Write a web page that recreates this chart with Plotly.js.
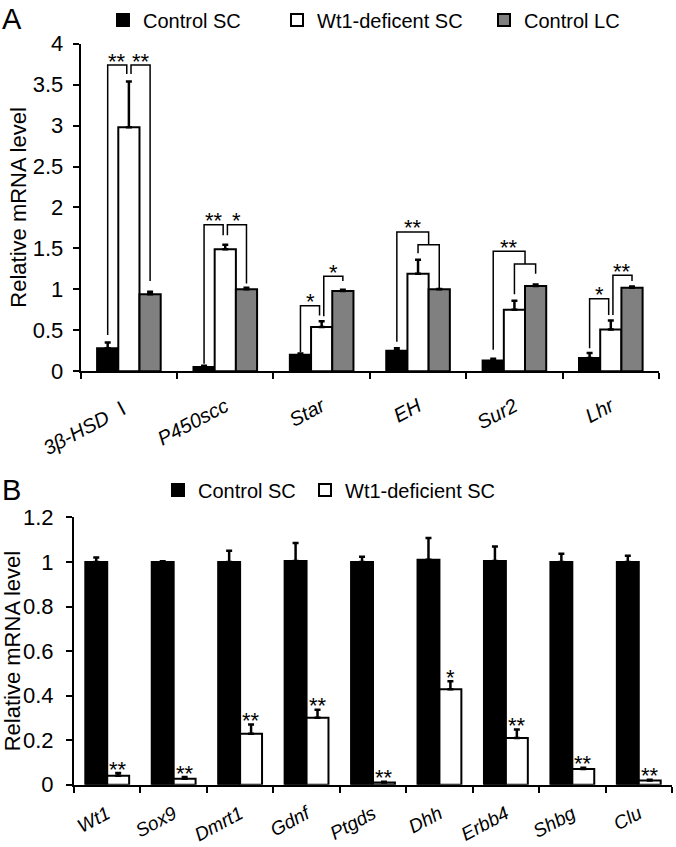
<!DOCTYPE html>
<html>
<head>
<meta charset="utf-8">
<script src="https://cdn.plot.ly/plotly-3.0.1.min.js"></script>
<style>html,body{margin:0;padding:0;background:#fff;}#chart{width:676px;height:847px;}</style>
</head>
<body>
<div id="chart"></div>
<script>
// ---------- Panel A data ----------
const categoriesA = ["3β-HSD <span style=\"font-family:'Noto Sans CJK SC';font-style:normal\">Ⅰ</span>", "P450scc", "Star", "EH", "Sur2", "Lhr"];
const controlSC_A = [0.28, 0.05, 0.20, 0.25, 0.13, 0.16];
const controlSC_A_err = [0.07, 0.015, 0.015, 0.03, 0.02, 0.06];
const wt1SC_A = [2.98, 1.49, 0.54, 1.19, 0.75, 0.51];
const wt1SC_A_err = [0.56, 0.055, 0.07, 0.17, 0.11, 0.11];
const controlLC_A = [0.94, 1.00, 0.98, 1.00, 1.04, 1.02];
const controlLC_A_err = [0.03, 0.02, 0.015, 0.005, 0.02, 0.015];
const seriesNamesA = ["Control SC", "Wt1-deficent SC", "Control LC"];

// significance brackets (panel A): category, from-bar slot, to-bar slot (0 black,1 white,2 grey), top, leg ends, label
const bracketCat = [0, 0, 1, 1, 2, 2, 3, 3, 4, 4, 5, 5];
const bracketFrom = [0, 1.1, 0, 1.1, 0, 1.1, 0, 1, 0, 1, 0, 1.1];
const bracketTo = [0.9, 2, 0.9, 2, 0.9, 2, 1.5, 2, 1.5, 2, 0.9, 2];
const bracketTop = [3.74, 3.74, 1.79, 1.79, 0.80, 1.16, 1.70, 1.545, 1.465, 1.31, 0.885, 1.17];
const bracketFromEnd = [0.44, 3.63, 0.09, 1.66, 0.23, 0.67, 0.36, 1.44, 0.26, 0.94, 0.28, 0.685];
const bracketToEnd = [3.63, 1.10, 1.66, 1.07, 0.68, 1.10, 1.545, 1.00, 1.31, 1.19, 0.685, 1.10];
const bracketLabel = ["**", "**", "**", "*", "*", "*", "**", "", "**", "", "*", "**"];

// ---------- Panel B data ----------
const categoriesB = ["Wt1", "Sox9", "Dmrt1", "Gdnf", "Ptgds", "Dhh", "Erbb4", "Shbg", "Clu"];
const controlSC_B = [1.00, 1.00, 1.00, 1.005, 1.00, 1.01, 1.005, 1.00, 1.00];
const controlSC_B_err = [0.02, 0.003, 0.05, 0.08, 0.023, 0.098, 0.065, 0.037, 0.028];
const wt1SC_B = [0.04, 0.027, 0.229, 0.30, 0.01, 0.428, 0.21, 0.07, 0.019];
const wt1SC_B_err = [0.012, 0.007, 0.041, 0.037, 0.003, 0.036, 0.038, 0.006, 0.003];
const sigB = ["**", "**", "**", "**", "**", "*", "**", "**", "**"];
const seriesNamesB = ["Control SC", "Wt1-deficient SC"];

// ---------- styling ----------
const FONT = "'Liberation Sans', Arial, sans-serif";
const BLACK = "#000000", WHITE = "#ffffff", GREY = "#808080";
const BARGAP = 0.34;
const W = 676, H = 847;
const px2x = p => p / W;
const px2y = p => (H - p) / H;

function zeros(n) { return new Array(n).fill(0); }
function barTrace(x, y, err, name, color, xa, ya, legend) {
  return {
    type: "bar", x: x, y: y, name: name, xaxis: xa, yaxis: ya, legend: legend,
    marker: {color: color, line: {color: BLACK, width: 2}},
    error_y: {type: "data", array: err, arrayminus: zeros(err.length), symmetric: false,
              visible: true, color: BLACK, thickness: 2.5, width: 3},
    hoverinfo: "skip"
  };
}

const traces = [
  barTrace(categoriesA, controlSC_A, controlSC_A_err, seriesNamesA[0], BLACK, "x", "y", "legend"),
  barTrace(categoriesA, wt1SC_A, wt1SC_A_err, seriesNamesA[1], WHITE, "x", "y", "legend2"),
  barTrace(categoriesA, controlLC_A, controlLC_A_err, seriesNamesA[2], GREY, "x", "y", "legend3"),
  barTrace(categoriesB, controlSC_B, controlSC_B_err, seriesNamesB[0], BLACK, "x2", "y2", "legend4"),
  barTrace(categoriesB, wt1SC_B, wt1SC_B_err, seriesNamesB[1], WHITE, "x2", "y2", "legend5")
];

// bar slot offset in category units
const wA = (1 - BARGAP) / 3;
const wB = (1 - BARGAP) / 2;
const slotA = (cat, s) => cat + (s - 1) * wA;

const shapes = [];
const annotations = [];
for (let i = 0; i < bracketCat.length; i++) {
  const x1 = slotA(bracketCat[i], bracketFrom[i]);
  const x2 = slotA(bracketCat[i], bracketTo[i]);
  const t = bracketTop[i];
  shapes.push({
    type: "path", xref: "x", yref: "y",
    path: `M ${x1},${bracketFromEnd[i]} L ${x1},${t} L ${x2},${t} L ${x2},${bracketToEnd[i]}`,
    line: {color: BLACK, width: 1.5}
  });
  if (bracketLabel[i]) {
    annotations.push({xref: "x", yref: "y", x: (x1 + x2) / 2, y: t, text: bracketLabel[i],
      showarrow: false, xanchor: "center", yanchor: "middle", yshift: 4,
      font: {family: FONT, size: 22, color: BLACK}});
  }
}
for (let i = 0; i < categoriesB.length; i++) {
  annotations.push({xref: "x2", yref: "y2", x: i + wB / 2, y: wt1SC_B[i] + wt1SC_B_err[i],
    text: sigB[i], showarrow: false, xanchor: "center", yanchor: "middle", yshift: 4,
    font: {family: FONT, size: 22, color: BLACK}});
}
annotations.push({xref: "paper", yref: "paper", x: 0, y: px2y(14.5), text: "A", showarrow: false,
  xanchor: "left", yanchor: "middle", font: {family: FONT, size: 29, color: BLACK}});
annotations.push({xref: "paper", yref: "paper", x: 0, y: px2y(487.5), text: "B", showarrow: false,
  xanchor: "left", yanchor: "middle", font: {family: FONT, size: 29, color: BLACK}});

function xAxis(domain, anchor, angle, size, standoff) {
  return {
    domain: domain, anchor: anchor, type: "category", tickson: "boundaries",
    ticks: "outside", ticklen: 6, tickwidth: 2, tickcolor: BLACK,
    showline: true, linewidth: 2, linecolor: BLACK, showgrid: false, zeroline: false,
    tickangle: angle, tickfont: {family: FONT, size: size, color: BLACK, style: "italic"},
    ticklabelstandoff: standoff,
    fixedrange: true
  };
}
function yAxis(domain, anchor, range, dtick, standoff) {
  return {
    domain: domain, anchor: anchor, range: range, tick0: 0, dtick: dtick,
    ticks: "outside", ticklen: 6, tickwidth: 2, tickcolor: BLACK,
    showline: true, linewidth: 2, linecolor: BLACK, showgrid: false, zeroline: false,
    tickfont: {family: FONT, size: 22, color: BLACK}, ticklabelstandoff: standoff,
    title: {text: "Relative mRNA level", font: {family: FONT, size: 22, color: BLACK}},
    fixedrange: true
  };
}
function legendAt(xpx, ypx) {
  return {orientation: "h", x: px2x(xpx), y: px2y(ypx), xanchor: "left", yanchor: "middle",
    font: {family: FONT, size: 20, color: BLACK}, bgcolor: "rgba(0,0,0,0)", borderwidth: 0,
    itemclick: false, itemdoubleclick: false};
}

const layout = {
  width: W, height: H,
  margin: {l: 0, r: 0, t: 0, b: 0},
  paper_bgcolor: WHITE, plot_bgcolor: WHITE,
  barmode: "group", bargap: BARGAP, bargroupgap: 0,
  font: {family: FONT, color: BLACK},
  showlegend: true,
  xaxis: xAxis([px2x(80.7), px2x(659)], "y", -28, 20, 14),
  yaxis: yAxis([px2y(368.3), px2y(39)], "x", [0, 4], 0.5, 5),
  xaxis2: xAxis([px2x(74), px2x(672)], "y2", -28, 19, 9),
  yaxis2: yAxis([px2y(784.3), px2y(515.5)], "x2", [0, 1.2], 0.2, 8),
  legend: legendAt(103, 15),
  legend2: legendAt(277, 15),
  legend3: legendAt(484, 15),
  legend4: legendAt(158, 488),
  legend5: legendAt(305, 488),
  shapes: shapes,
  annotations: annotations
};

Plotly.newPlot("chart", traces, layout, {staticPlot: true, displayModeBar: false});
</script>
</body>
</html>
